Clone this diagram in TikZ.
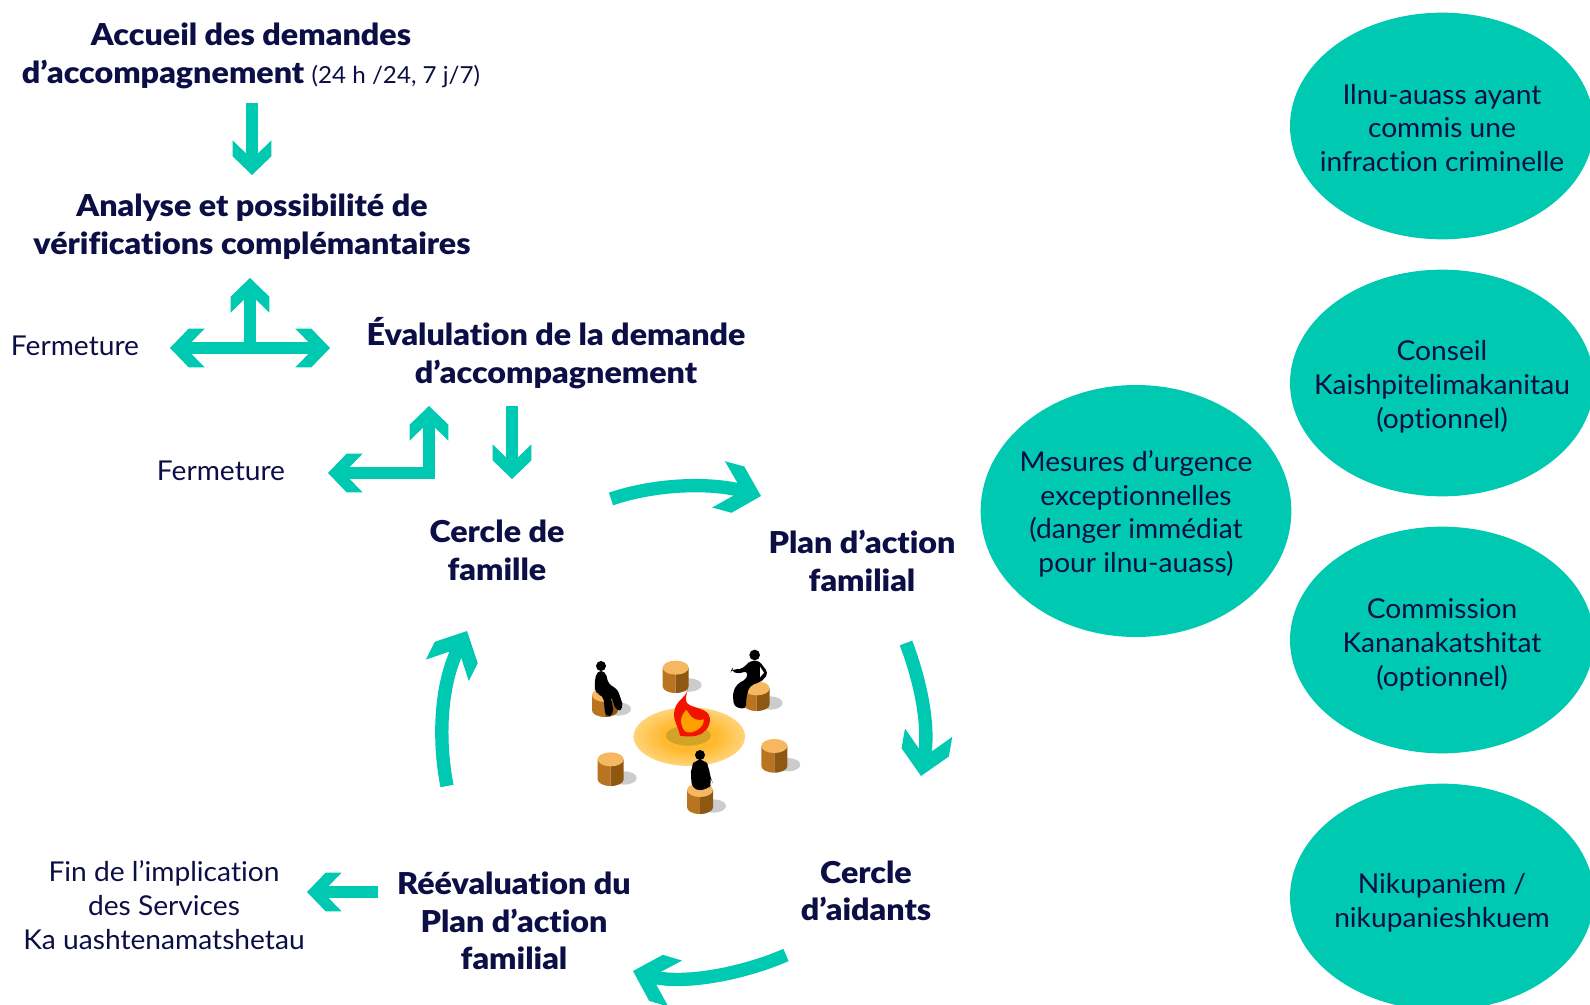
\documentclass[tikz,border=0pt]{standalone}
\usepackage{fontspec}
\setmainfont[Ligatures=NoCommon,FakeStretch=1.03]{Lato}
\newfontfamily\hv[Ligatures=NoCommon,FakeStretch=1.07]{Lato Black}
\usetikzlibrary{arrows.meta,shapes.geometric}
\definecolor{teal0}{HTML}{00C9B1}
\definecolor{navy0}{HTML}{0B0F45}
\definecolor{stumpleft}{HTML}{B87420}
\definecolor{stumpright}{HTML}{8F5812}
\definecolor{stumptop}{HTML}{F5B75F}
\definecolor{glowa}{HTML}{FFB92E}
\definecolor{glowb}{HTML}{FFD98A}
\definecolor{glowc}{HTML}{FFF1D0}
\pgfdeclareradialshading{glow}{\pgfpointorigin}{color(0bp)=(glowa); color(12bp)=(glowa); color(28bp)=(glowb); color(50bp)=(glowc)}
\pgfdeclarearrow{
  name=Chev,
  setup code={
    \pgfarrowssettipend{0pt}
    \pgfarrowssetlineend{-11pt}
    \pgfarrowssetvisualbackend{-15pt}
    \pgfarrowssetvisualtipend{0pt}
    \pgfarrowshullpoint{0pt}{0pt}
    \pgfarrowshullpoint{-26pt}{14.5pt}
    \pgfarrowshullpoint{-26pt}{-14.5pt}
  },
  drawing code={
    \pgfpathmoveto{\pgfpointorigin}
    \pgfpathlineto{\pgfpoint{-14pt}{14.5pt}}
    \pgfpathlineto{\pgfpoint{-26pt}{14.5pt}}
    \pgfpathlineto{\pgfpoint{-16pt}{4.3pt}}
    \pgfpathlineto{\pgfpoint{-16pt}{-4.3pt}}
    \pgfpathlineto{\pgfpoint{-26pt}{-14.5pt}}
    \pgfpathlineto{\pgfpoint{-14pt}{-14.5pt}}
    \pgfpathclose
    \pgfusepathqfill
  }
}
\pgfdeclarearrow{
  name=ChevB,
  setup code={
    \pgfarrowssettipend{0pt}
    \pgfarrowssetlineend{-14pt}
    \pgfarrowssetvisualbackend{-19pt}
    \pgfarrowssetvisualtipend{0pt}
    \pgfarrowshullpoint{0pt}{0pt}
    \pgfarrowshullpoint{-33pt}{18pt}
    \pgfarrowshullpoint{-33pt}{-18pt}
  },
  drawing code={
    \pgfpathmoveto{\pgfpointorigin}
    \pgfpathlineto{\pgfpoint{-18pt}{18pt}}
    \pgfpathlineto{\pgfpoint{-33pt}{18pt}}
    \pgfpathlineto{\pgfpoint{-20pt}{5.2pt}}
    \pgfpathlineto{\pgfpoint{-20pt}{-5.2pt}}
    \pgfpathlineto{\pgfpoint{-33pt}{-18pt}}
    \pgfpathlineto{\pgfpoint{-18pt}{-18pt}}
    \pgfpathclose
    \pgfusepathqfill
  }
}
\tikzset{
  flow/.style={draw=teal0,line width=8.8pt,-{Chev},line cap=butt},
  bigflow/.style={draw=teal0,line width=10pt,-{ChevB},line cap=butt},
  lbl/.style={text=navy0,align=center,inner sep=0pt,font=\fontsize{20.5}{25.4}\selectfont},
  head/.style={text=navy0,align=center,inner sep=0pt,font=\fontsize{22.6}{28}\selectfont\hv},
  bubble/.style={ellipse,fill=teal0,inner sep=0pt,minimum width=228pt,minimum height=170pt},
  bubbletext/.style={text=navy0,align=center,inner sep=0pt,font=\fontsize{20.5}{25.3}\selectfont},
}
\newcommand{\stump}[3]{%
  \fill[black!20] (#1+40,#2+#3-4) ellipse (38 and 20);
  \fill[stumpleft] (#1-39,#2) -- (#1-39,#2+#3) .. controls (#1-39,#2+#3+11) and (#1-22,#2+#3+20) .. (#1,#2+#3+20) -- (#1,#2) -- cycle;
  \fill[stumpright] (#1+39,#2) -- (#1+39,#2+#3) .. controls (#1+39,#2+#3+11) and (#1+22,#2+#3+20) .. (#1,#2+#3+20) -- (#1,#2) -- cycle;
  \fill[stumptop] (#1,#2) ellipse (39 and 21);
}
\begin{document}
\begin{tikzpicture}[x=0.75pt,y=-0.75pt]
\clip (0,0) rectangle (1590,1005);
\useasboundingbox (0,0) rectangle (1590,1005);
\fill[white] (0,0) rectangle (1590,1005);
% bubbles
\node[bubble] (b1) at (1442,126) {};
\node[bubble] (b2) at (1442,383) {};
\node[bubble] (b3) at (1442,640) {};
\node[bubble] (b4) at (1442,897) {};
\node[bubble,minimum width=233pt,minimum height=189pt] (b5) at (1136,511) {};
\node[bubbletext] (t1) at (1442,128) {Ilnu-auass ayant\\commis une\\infraction criminelle};
\node[bubbletext] (t2) at (1442,387) {Conseil\\Kaishpitelimakanitau\\(optionnel)};
\node[bubbletext] (t3) at (1442,645) {Commission\\Kananakatshitat\\(optionnel)};
\node[bubbletext] (t4) at (1442,902.5) {Nikupaniem /\\nikupanieshkuem};
\node[bubbletext] (t5) at (1136,514) {Mesures d’urgence\\exceptionnelles\\(danger immédiat\\pour ilnu-auass)};
% labels
\node[head] (accueil) at (251,56) {Accueil des demandes\\d’accompagnement {\normalfont\fontsize{17.6}{25}\selectfont (24 h /24, 7 j/7)}};
\node[head] (analyse) at (252,226.5) {Analyse et possibilité de\\vérifications complémantaires};
\node[head] (eval) at (556,353) {Évalulation de la demande\\d’accompagnement};
\node[lbl] (ferm1) at (75,346) {Fermeture};
\node[lbl] (ferm2) at (221,471) {Fermeture};
\node[head] (cercle) at (497,550.5) {Cercle de\\famille};
\node[head] (plan) at (862,561) {Plan d’action\\familial};
\node[head] (aidants) at (866,890.5) {Cercle\\d’aidants};
\node[head] (reeval) at (514,921) {Réévaluation du\\Plan d’action\\familial};
\node[lbl] (fin) at (164,905) {Fin de l’implication\\des Services\\Ka uashtenamatshetau};
% connector ends
\coordinate (a1) at (252,103); \coordinate (a2) at (252,175);
\coordinate (t0) at (250,348); \coordinate (t1x) at (250,278);
\coordinate (t2x) at (170,348); \coordinate (t3x) at (330,348);
\coordinate (l0) at (429,473); \coordinate (l1) at (429,406); \coordinate (l2) at (328,473);
\coordinate (d1) at (512,406); \coordinate (d2) at (512,479);
\coordinate (c1s) at (611,499); \coordinate (c1e) at (761,496);
\coordinate (c2s) at (906,643); \coordinate (c2e) at (921,776);
\coordinate (c3s) at (786,955); \coordinate (c3e) at (633,971);
\coordinate (c4s) at (447,786); \coordinate (c4e) at (467,631);
\coordinate (f1) at (378,892); \coordinate (f2) at (307,892);
% connectors
\draw[flow] (a1) -- (a2);
\draw[flow] (t0) -- (t1x);
\draw[flow] (t0) -- (t2x);
\draw[flow] (t0) -- (t3x);
\draw[flow,-] (l0) ++(6,0) -- (l0);
\draw[flow] (l0) ++(0,6) -- (l1);
\draw[flow] (l0) -- (l2);
\draw[flow] (d1) -- (d2);
\draw[bigflow] (c1s) .. controls (655,484) and (710,482) .. (c1e);
\draw[bigflow] (c2s) .. controls (920,680) and (930,725) .. (c2e);
\draw[bigflow] (c3s) .. controls (740,975) and (680,985) .. (c3e);
\draw[bigflow] (c4s) .. controls (438,740) and (440,685) .. (c4e);
\draw[flow] (f1) -- (f2);
% campfire scene
\begin{scope}[shift={(560,620)},x=0.25pt,y=-0.25pt]
\shade[shading=glow] (388,350) ellipse (167 and 88);
\fill[yellow!45!orange!82!black] (385,347) ellipse (67 and 30);
\stump{347}{143}{56}
\stump{135}{225}{46}
\stump{590}{205}{48}
\stump{643}{378}{60}
\stump{152}{418}{60}
\stump{420}{510}{52}
% flame
\fill[red!85!orange!95!black] (383,208) .. controls (378,235) and (345,240) .. (342,280) .. controls (341,305) and (355,320) .. (360,347) .. controls (385,352) and (420,350) .. (432,335) .. controls (450,322) and (455,297) .. (445,282) .. controls (430,262) and (395,265) .. (380,248) .. controls (375,235) and (380,222) .. (383,208) -- cycle;
\fill[orange!75!yellow] (378,270) .. controls (365,285) and (358,300) .. (366,318) .. controls (370,333) and (380,340) .. (395,337) .. controls (415,332) and (432,318) .. (432,298) .. controls (415,305) and (395,295) .. (390,285) .. controls (385,278) and (382,272) .. (378,270) -- cycle;
% seated figures
\fill[black] (123,138) circle (15);
\fill[black,rounded corners=4] (110,152) -- (136,152) -- (146,195) -- (172,205) -- (192,265) -- (170,276) -- (152,225) -- (162,285) -- (136,292) -- (130,225) -- (106,222) -- (103,195) -- cycle;
\fill[black] (420,405) circle (15);
\fill[black,rounded corners=5] (406,418) -- (434,418) -- (447,440) -- (450,472) -- (458,488) -- (442,510) -- (398,510) -- (392,470) -- (394,440) -- cycle;
\fill[black] (584,105) circle (16);
\fill[black,rounded corners=3] (570,122) -- (598,122) -- (610,140) -- (625,158) -- (612,178) -- (598,187) -- (570,197) -- (560,225) -- (557,268) -- (522,260) -- (518,220) -- (530,193) -- (562,175) -- (562,152) -- (535,162) -- (513,153) -- (516,146) -- (538,150) -- (560,135) -- cycle;
\fill[white] (600,140) -- (612,158) -- (600,172) -- cycle;
\end{scope}
\end{tikzpicture}
\end{document}
